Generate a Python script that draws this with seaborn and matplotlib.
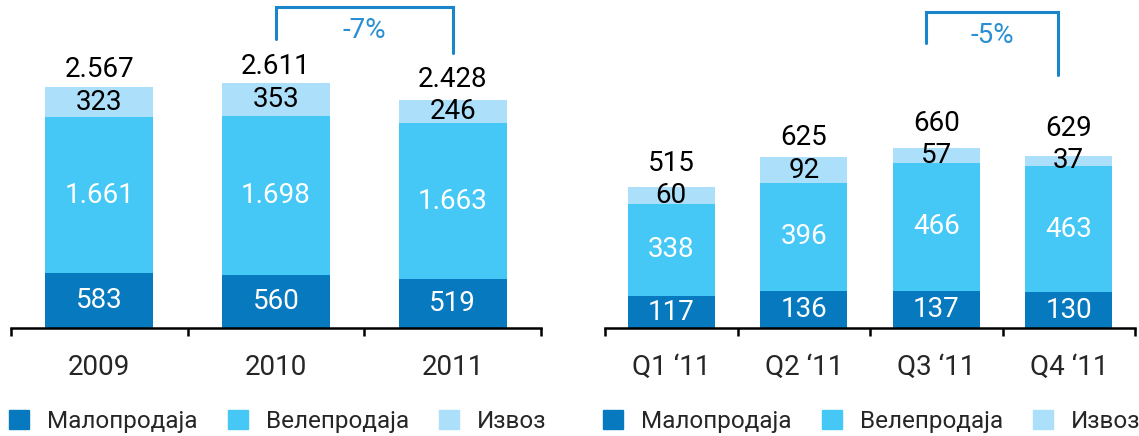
import numpy as np
import pandas as pd
import matplotlib
matplotlib.use("Agg")
import matplotlib.pyplot as plt
import seaborn as sns
from matplotlib import font_manager
from matplotlib.patches import Patch

# data
years = ["2009", "2010", "2011"]
retail_y = [583, 560, 519]
wholesale_y = [1661, 1698, 1663]
export_y = [323, 353, 246]
total_y = [2567, 2611, 2428]

quarters = ["Q1 \u201811", "Q2 \u201811", "Q3 \u201811", "Q4 \u201811"]
retail_q = [117, 136, 137, 130]
wholesale_q = [338, 396, 466, 463]
export_q = [60, 92, 57, 37]
total_q = [515, 625, 660, 629]

legend_labels = ["Малопродаја", "Велепродаја", "Извоз"]
change_y = "-7%"
change_q = "-5%"

c_dark = "#0779bf"
c_mid = "#45c8f6"
c_light = "#acdff9"
c_brk = "#1a85c8"

sns.set_style("white")
names = {f.name for f in font_manager.fontManager.ttflist}
fam = [f for f in ["Liberation Sans Narrow", "Roboto", "DejaVu Sans"] if f in names]
plt.rcParams["font.family"] = fam
FS = 20
LFS = 17.5

fig = plt.figure(figsize=(11.39, 4.36), dpi=100)
ax1 = fig.add_axes([11 / 1139, 108 / 436, 530 / 1139, 328 / 436])
ax2 = fig.add_axes([605 / 1139, 108 / 436, 530 / 1139, 328 / 436])
AX_PX = 328  # axes height in pixels


def stacked(ax, cats, retail, wholesale, export, total, width, ymax):
    lower = np.array(retail) + np.array(wholesale)
    bar_kw = dict(saturation=1, width=width, ax=ax, order=cats, linewidth=0, edgecolor="none")
    sns.barplot(x=cats, y=total, color=c_light, **bar_kw)
    sns.barplot(x=cats, y=lower, color=c_mid, **bar_kw)
    sns.barplot(x=cats, y=retail, color=c_dark, **bar_kw)
    fmt = lambda v: f"{v:,}".replace(",", ".")
    pt_per_unit = AX_PX / ymax * 0.72
    for i in range(len(cats)):
        ax.text(i, retail[i] / 2, fmt(retail[i]), ha="center", va="center",
                color="white", fontsize=FS)
        ax.text(i, retail[i] + wholesale[i] / 2, fmt(wholesale[i]), ha="center",
                va="center", color="white", fontsize=FS)
        ax.text(i, lower[i] + export[i] / 2, fmt(export[i]), ha="center",
                va="center", color="black", fontsize=FS)
        # total sits above the bar, or above the export label if that segment is thin
        seg_pt = export[i] * pt_per_unit
        tot_off = max(2, 13.5 - seg_pt / 2)
        ax.annotate(fmt(total[i]), (i, total[i]), xytext=(0, tot_off), textcoords="offset points",
                    ha="center", va="bottom", color="black", fontsize=FS)
    n = len(cats)
    ax.set_xlim(-0.5, n - 0.5)
    ax.set_ylim(0, ymax)
    ax.set_yticks([])
    ax.set_ylabel("")
    for s in ["top", "left", "right"]:
        ax.spines[s].set_visible(False)
    ax.spines["bottom"].set_linewidth(1.8)
    ax.spines["bottom"].set_color("black")
    ax.set_xticks(np.arange(n + 1) - 0.5)
    ax.set_xticklabels([""] * (n + 1))
    ax.set_xticks(np.arange(n), minor=True)
    ax.set_xticklabels(cats, minor=True, fontsize=FS)
    ax.tick_params(axis="x", which="major", direction="out", length=6, width=1.8,
                   color="black", bottom=True)
    ax.tick_params(axis="x", which="minor", length=0, pad=19, bottom=True)
    handles = [Patch(color=c) for c in (c_dark, c_mid, c_light)]
    ax.legend(handles, legend_labels, loc="center left", ncol=3,
              bbox_to_anchor=(ax.get_position().x0 - 2 / 1139, 1 - 421 / 436),
              bbox_transform=fig.transFigure, frameon=False, fontsize=LFS,
              handlelength=0.82, handleheight=0.82, handletextpad=0.74,
              columnspacing=1.25, borderpad=0, borderaxespad=0)


stacked(ax1, years, retail_y, wholesale_y, export_y, total_y, 0.61, 3494)
stacked(ax2, quarters, retail_q, wholesale_q, export_q, total_q, 0.66, 1200)


def bracket(ax, i0, i1, top, y0, y1, label):
    ax.plot([i0, i0, i1, i1], [y0, top, top, y1], color=c_brk, lw=2.2,
            clip_on=False, solid_joinstyle="miter")
    ax.text((i0 + i1) / 2, (top + y0) / 2 - (top - y0) * 0.25, label, ha="center",
            va="center", color="#2a8fd2", fontsize=FS)


# bracket heights relative to the largest total of each panel
my = max(total_y)
bracket(ax1, 1, 2, my * 1.31, my * 1.18, my * 1.12, change_y)
mq = max(total_q)
bracket(ax2, 1.92, 2.92, mq * 1.75, mq * 1.58, mq * 1.40, change_q)

fig.savefig("out.png", dpi=100)
